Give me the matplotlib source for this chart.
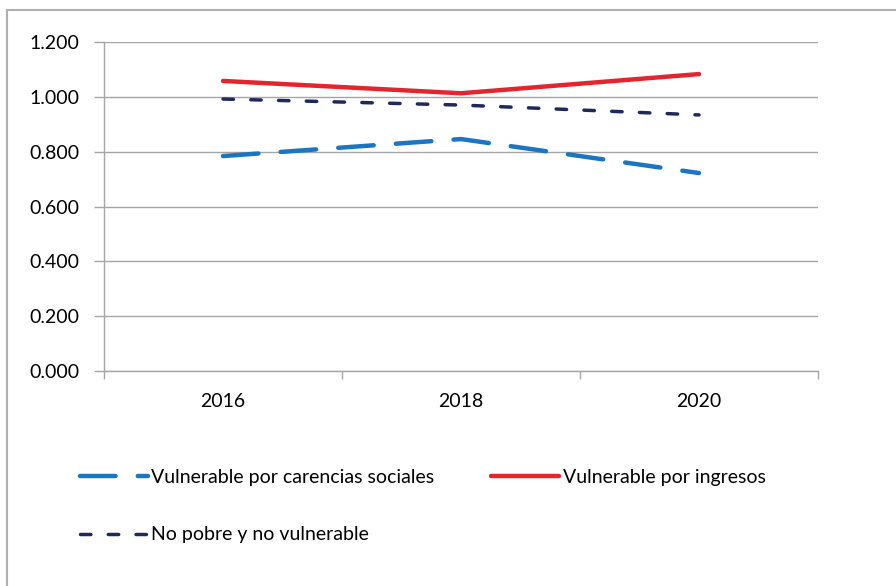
import matplotlib.pyplot as plt
from matplotlib.lines import Line2D

# ==================== DATA ====================
years = ['2016', '2018', '2020']
carencias = [0.784, 0.846, 0.722]
ingresos = [1.058, 1.013, 1.083]
no_pobre = [0.992, 0.970, 0.934]
y_ticks = [0.0, 0.2, 0.4, 0.6, 0.8, 1.0, 1.2]

# ==================== STYLE ====================
plt.rcParams['font.family'] = ['Lato', 'DejaVu Sans']
c_blue = '#1a75c2'
c_red = '#e3262d'
c_navy = '#1f2a5c'
c_grid = '#a6a6a6'

fig = plt.figure(figsize=(8.96, 5.86), dpi=100)
ax = fig.add_axes([104/896, 1 - 371/586, (818 - 104)/896, (371 - 42)/586])

x = list(range(len(years)))
l_blue, = ax.plot(x, carencias, color=c_blue, lw=3.2, dashes=(8, 5),
                  dash_capstyle='round', label='Vulnerable por carencias sociales')
l_red, = ax.plot(x, ingresos, color=c_red, lw=3.2, solid_capstyle='round',
                 label='Vulnerable por ingresos')
l_navy, = ax.plot(x, no_pobre, color=c_navy, lw=2.5, dashes=(3, 5),
                  dash_capstyle='round', label='No pobre y no vulnerable')

# ==================== AXES ====================
ax.set_xlim(-0.5, len(years) - 0.5)
ax.set_ylim(0, 1.2)
ax.set_yticks(y_ticks)
ax.set_yticklabels([f'{v:.3f}' for v in y_ticks])
ax.set_xticks(x)
ax.set_xticklabels(years)
ax.set_xticks([i - 0.5 for i in range(len(years) + 1)], minor=True)
ax.tick_params(axis='x', which='major', length=0, pad=16, labelsize=14)
ax.tick_params(axis='x', which='minor', length=6, color=c_grid, width=1)
ax.tick_params(axis='y', length=7, color=c_grid, width=1, pad=11, labelsize=14)

ax.grid(axis='y', color=c_grid, lw=1)
ax.set_axisbelow(True)
for s in ['top', 'right']:
    ax.spines[s].set_visible(False)
for s in ['left', 'bottom']:
    ax.spines[s].set_color(c_grid)
    ax.spines[s].set_linewidth(1)

# ==================== LEGEND ====================
fig.legend(handles=[l_blue, l_navy, l_red], ncol=2, frameon=False,
           loc='upper left', bbox_to_anchor=(62/896, 1 - 451/586),
           fontsize=14, handlelength=3.5, handletextpad=0.2,
           columnspacing=2.9, labelspacing=2.1)

# ==================== BORDER ====================
fig.add_artist(Line2D([7/896, 1], [1 - 10/586, 1 - 10/586],
                      transform=fig.transFigure, color='#b0b0b0', lw=1.5))
fig.add_artist(Line2D([7/896, 7/896], [0, 1 - 10/586],
                      transform=fig.transFigure, color='#b0b0b0', lw=1.5))

fig.savefig('out.png', dpi=100)
